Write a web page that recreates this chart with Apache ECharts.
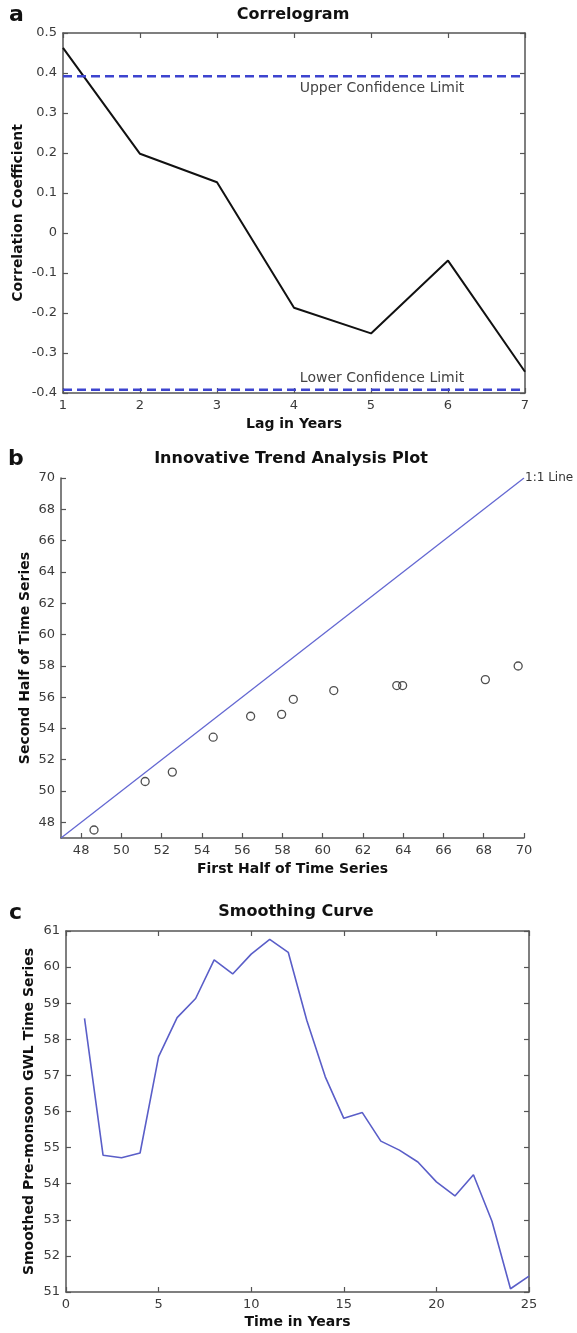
<!DOCTYPE html>
<html>
<head>
<meta charset="utf-8">
<script src="https://cdn.jsdelivr.net/npm/echarts@6/dist/echarts.min.js"></script>
<style>
html,body{margin:0;padding:0;background:#fff;}
#chart{width:577px;height:1333px;}
</style>
</head>
<body>
<div id="chart"></div>
<script>
// Panel a: correlogram
const lags = [1, 2, 3, 4, 5, 6, 7];
const acf = [0.463, 0.198, 0.127, -0.187, -0.251, -0.069, -0.347];
const confLimit = 0.392;
const lagRange = [1, 7];

// Panel b: innovative trend analysis
const firstHalf = [48.64, 51.18, 52.53, 54.56, 56.42, 57.96, 58.54, 60.55, 63.68, 63.97, 68.08, 69.71];
const secondHalf = [47.51, 50.61, 51.21, 53.44, 54.78, 54.90, 55.86, 56.42, 56.74, 56.74, 57.12, 57.99];
const oneToOne = [47, 70];
const itaTicks = [48, 50, 52, 54, 56, 58, 60, 62, 64, 66, 68, 70];

// Panel c: smoothing curve
const years = [1,2,3,4,5,6,7,8,9,10,11,12,13,14,15,16,17,18,19,20,21,22,23,24,25];
const smoothed = [58.58, 54.79, 54.72, 54.85, 57.52, 58.60, 59.13, 60.20, 59.81, 60.36, 60.77, 60.41,
                  58.53, 56.96, 55.81, 55.97, 55.18, 54.93, 54.60, 54.05, 53.66, 54.25, 52.96, 51.09, 51.44];

const FONT = 'DejaVu Sans';
const axisCol = '#555';
const txtCol = '#3a3a3a';

function baseAxis(extra) {
  return Object.assign({
    type: 'value',
    axisLine: { show: true, onZero: false, lineStyle: { color: axisCol, width: 1.5 } },
    axisTick: { show: true, inside: true, length: 5, lineStyle: { color: axisCol, width: 1.2 } },
    axisLabel: { color: txtCol, fontFamily: FONT, fontSize: 13, margin: 6 },
    splitLine: { show: false },
    nameTextStyle: { color: '#111', fontFamily: FONT, fontSize: 14, fontWeight: 'bold' },
    nameLocation: 'middle',
    nameMoveOverlap: false
  }, extra);
}
function boxAxis(extra) {
  return baseAxis(Object.assign({ axisLabel: { show: false } }, extra));
}

const chart = echarts.init(document.getElementById('chart'), null, { renderer: 'canvas' });

const option = {
  animation: false,
  backgroundColor: '#fff',
  grid: [
    { left: 63, top: 33, width: 462, height: 360 },
    { left: 61, top: 478, width: 463, height: 360 },
    { left: 66, top: 931, width: 463, height: 361 }
  ],
  xAxis: [
    baseAxis({ gridIndex: 0, min: lagRange[0], max: lagRange[1], interval: 1, name: 'Lag in Years', nameGap: 24 }),
    boxAxis({ gridIndex: 0, position: 'top', min: lagRange[0], max: lagRange[1], interval: 1 }),
    baseAxis({ gridIndex: 1, min: oneToOne[0], max: oneToOne[1], name: 'First Half of Time Series', nameGap: 24,
      axisLabel: { color: txtCol, fontFamily: FONT, fontSize: 13, margin: 6, customValues: itaTicks },
      axisTick: { show: true, inside: true, length: 5, lineStyle: { color: axisCol, width: 1.2 }, customValues: itaTicks } }),
    baseAxis({ gridIndex: 2, min: 0, max: 25, interval: 5, name: 'Time in Years', nameGap: 23 }),
    boxAxis({ gridIndex: 2, position: 'top', min: 0, max: 25, interval: 5 })
  ],
  yAxis: [
    baseAxis({ gridIndex: 0, min: -0.4, max: 0.5, interval: 0.1, name: 'Correlation Coefficient', nameGap: 38 }),
    boxAxis({ gridIndex: 0, position: 'right', min: -0.4, max: 0.5, interval: 0.1 }),
    baseAxis({ gridIndex: 1, min: oneToOne[0], max: oneToOne[1], name: 'Second Half of Time Series', nameGap: 29,
      axisLabel: { color: txtCol, fontFamily: FONT, fontSize: 13, margin: 6, customValues: itaTicks },
      axisTick: { show: true, inside: true, length: 5, lineStyle: { color: axisCol, width: 1.2 }, customValues: itaTicks } }),
    baseAxis({ gridIndex: 2, min: 51, max: 61, interval: 1, name: 'Smoothed Pre-monsoon GWL Time Series', nameGap: 30 }),
    boxAxis({ gridIndex: 2, position: 'right', min: 51, max: 61, interval: 1 })
  ],
  series: [
    {
      type: 'line', xAxisIndex: 0, yAxisIndex: 0, symbol: 'none',
      data: lags.map((l, i) => [l, acf[i]]),
      lineStyle: { color: '#111', width: 2 }
    },
    {
      type: 'line', xAxisIndex: 0, yAxisIndex: 0, symbol: 'none',
      data: lagRange.map(l => [l, confLimit]),
      lineStyle: { color: '#3d44cf', width: 2.5, type: [9, 5] }
    },
    {
      type: 'line', xAxisIndex: 0, yAxisIndex: 0, symbol: 'none',
      data: lagRange.map(l => [l, -confLimit]),
      lineStyle: { color: '#3d44cf', width: 2.5, type: [9, 5] }
    },
    {
      type: 'line', xAxisIndex: 2, yAxisIndex: 2, symbol: 'none',
      data: oneToOne.map(v => [v, v]),
      lineStyle: { color: '#6468d2', width: 1.3 },
      endLabel: { show: true, formatter: '1:1 Line', color: '#333', fontFamily: FONT, fontSize: 12, distance: 1 }
    },
    {
      type: 'scatter', xAxisIndex: 2, yAxisIndex: 2, symbol: 'circle', symbolSize: 8,
      data: firstHalf.map((v, i) => [v, secondHalf[i]]),
      itemStyle: { color: 'rgba(255,255,255,0)', borderColor: '#222', borderWidth: 1.3 }
    },
    {
      type: 'line', xAxisIndex: 3, yAxisIndex: 3, symbol: 'none',
      data: years.map((y, i) => [y, smoothed[i]]),
      lineStyle: { color: '#5a5ec8', width: 1.6 }
    }
  ],
  graphic: [
    { type: 'text', x: 9, y: 15, style: { text: 'a', font: 'bold 22px "DejaVu Sans"', fill: '#111', textVerticalAlign: 'middle' } },
    { type: 'text', x: 293, y: 15, style: { text: 'Correlogram', font: 'bold 16px "DejaVu Sans"', fill: '#111', textAlign: 'center', textVerticalAlign: 'middle' } },
    { type: 'text', x: 382, y: 88, style: { text: 'Upper Confidence Limit', font: '14px "DejaVu Sans"', fill: '#444', textAlign: 'center', textVerticalAlign: 'middle' } },
    { type: 'text', x: 382, y: 378, style: { text: 'Lower Confidence Limit', font: '14px "DejaVu Sans"', fill: '#444', textAlign: 'center', textVerticalAlign: 'middle' } },
    { type: 'text', x: 8, y: 459, style: { text: 'b', font: 'bold 22px "DejaVu Sans"', fill: '#111', textVerticalAlign: 'middle' } },
    { type: 'text', x: 291, y: 459, style: { text: 'Innovative Trend Analysis Plot', font: 'bold 16px "DejaVu Sans"', fill: '#111', textAlign: 'center', textVerticalAlign: 'middle' } },
    { type: 'text', x: 9, y: 913, style: { text: 'c', font: 'bold 22px "DejaVu Sans"', fill: '#111', textVerticalAlign: 'middle' } },
    { type: 'text', x: 296, y: 912, style: { text: 'Smoothing Curve', font: 'bold 16px "DejaVu Sans"', fill: '#111', textAlign: 'center', textVerticalAlign: 'middle' } }
  ]
};
chart.setOption(option);
</script>
</body>
</html>
